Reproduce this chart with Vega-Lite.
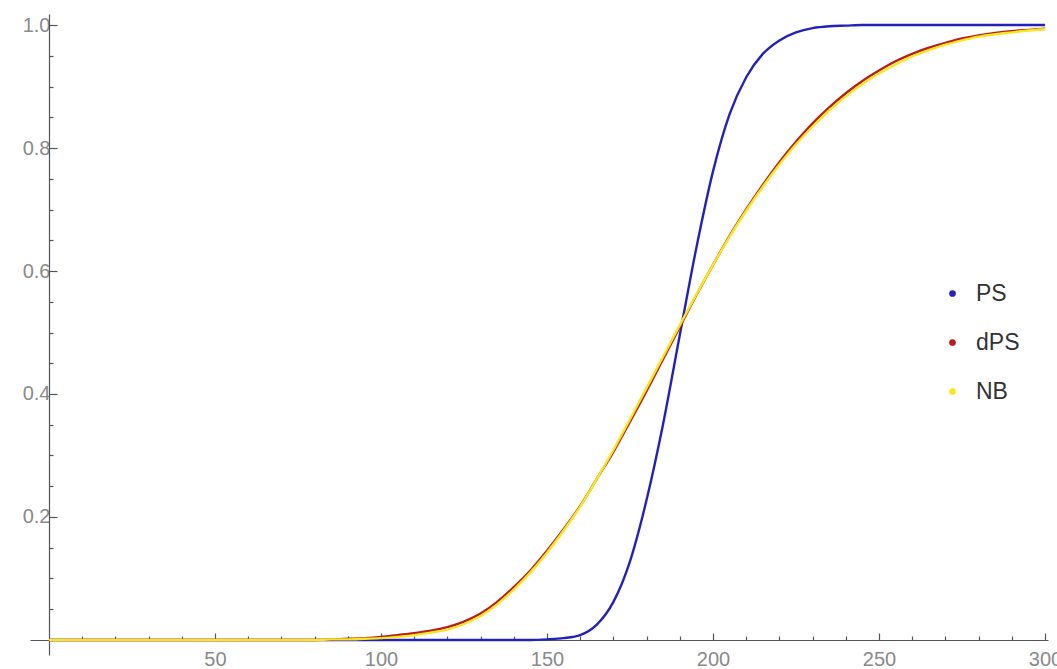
{
  "$schema": "https://vega.github.io/schema/vega-lite/v6.json",
  "width": 1018,
  "height": 641,
  "autosize": {"type": "none"},
  "padding": {"left": 30, "top": 14, "right": 9, "bottom": 14},
  "background": "white",
  "config": {"view": {"stroke": null}, "font": "Liberation Sans"},
  "data": {"values": [
    {"x": 0, "y": 0, "s": "PS"}, {"x": 145, "y": 0, "s": "PS"}, {"x": 150, "y": 0.001, "s": "PS"}, {"x": 155, "y": 0.003, "s": "PS"},
    {"x": 160, "y": 0.008, "s": "PS"}, {"x": 165, "y": 0.025, "s": "PS"}, {"x": 170, "y": 0.062, "s": "PS"}, {"x": 175, "y": 0.128, "s": "PS"},
    {"x": 180, "y": 0.228, "s": "PS"}, {"x": 185, "y": 0.352, "s": "PS"}, {"x": 190, "y": 0.496, "s": "PS"}, {"x": 195, "y": 0.638, "s": "PS"},
    {"x": 200, "y": 0.762, "s": "PS"}, {"x": 205, "y": 0.855, "s": "PS"}, {"x": 210, "y": 0.915, "s": "PS"}, {"x": 215, "y": 0.953, "s": "PS"},
    {"x": 220, "y": 0.975, "s": "PS"}, {"x": 225, "y": 0.988, "s": "PS"}, {"x": 230, "y": 0.995, "s": "PS"}, {"x": 235, "y": 0.998, "s": "PS"},
    {"x": 240, "y": 0.999, "s": "PS"}, {"x": 245, "y": 1.0, "s": "PS"}, {"x": 300, "y": 1.0, "s": "PS"},

    {"x": 0, "y": 0, "s": "dPS"}, {"x": 80, "y": 0, "s": "dPS"}, {"x": 85, "y": 0.001, "s": "dPS"}, {"x": 90, "y": 0.002, "s": "dPS"},
    {"x": 95, "y": 0.003, "s": "dPS"}, {"x": 100, "y": 0.005, "s": "dPS"}, {"x": 105, "y": 0.008, "s": "dPS"}, {"x": 110, "y": 0.011, "s": "dPS"},
    {"x": 115, "y": 0.015, "s": "dPS"}, {"x": 120, "y": 0.021, "s": "dPS"}, {"x": 125, "y": 0.030, "s": "dPS"}, {"x": 130, "y": 0.043, "s": "dPS"},
    {"x": 135, "y": 0.062, "s": "dPS"}, {"x": 140, "y": 0.086, "s": "dPS"}, {"x": 145, "y": 0.113, "s": "dPS"}, {"x": 150, "y": 0.145, "s": "dPS"},
    {"x": 155, "y": 0.180, "s": "dPS"}, {"x": 160, "y": 0.218, "s": "dPS"}, {"x": 165, "y": 0.262, "s": "dPS"}, {"x": 170, "y": 0.306, "s": "dPS"},
    {"x": 175, "y": 0.355, "s": "dPS"}, {"x": 180, "y": 0.405, "s": "dPS"}, {"x": 185, "y": 0.457, "s": "dPS"}, {"x": 190, "y": 0.509, "s": "dPS"},
    {"x": 195, "y": 0.561, "s": "dPS"}, {"x": 200, "y": 0.610, "s": "dPS"}, {"x": 205, "y": 0.657, "s": "dPS"}, {"x": 210, "y": 0.700, "s": "dPS"},
    {"x": 215, "y": 0.740, "s": "dPS"}, {"x": 220, "y": 0.777, "s": "dPS"}, {"x": 225, "y": 0.810, "s": "dPS"}, {"x": 230, "y": 0.840, "s": "dPS"},
    {"x": 235, "y": 0.866, "s": "dPS"}, {"x": 240, "y": 0.889, "s": "dPS"}, {"x": 245, "y": 0.909, "s": "dPS"}, {"x": 250, "y": 0.926, "s": "dPS"},
    {"x": 255, "y": 0.941, "s": "dPS"}, {"x": 260, "y": 0.953, "s": "dPS"}, {"x": 265, "y": 0.963, "s": "dPS"}, {"x": 270, "y": 0.971, "s": "dPS"},
    {"x": 275, "y": 0.978, "s": "dPS"}, {"x": 280, "y": 0.983, "s": "dPS"}, {"x": 285, "y": 0.987, "s": "dPS"}, {"x": 290, "y": 0.990, "s": "dPS"},
    {"x": 295, "y": 0.992, "s": "dPS"}, {"x": 300, "y": 0.994, "s": "dPS"},

    {"x": 0, "y": 0, "s": "NB"}, {"x": 80, "y": 0, "s": "NB"}, {"x": 85, "y": 0.001, "s": "NB"}, {"x": 90, "y": 0.001, "s": "NB"},
    {"x": 95, "y": 0.002, "s": "NB"}, {"x": 100, "y": 0.003, "s": "NB"}, {"x": 105, "y": 0.005, "s": "NB"}, {"x": 110, "y": 0.008, "s": "NB"},
    {"x": 115, "y": 0.012, "s": "NB"}, {"x": 120, "y": 0.017, "s": "NB"}, {"x": 125, "y": 0.026, "s": "NB"}, {"x": 130, "y": 0.039, "s": "NB"},
    {"x": 135, "y": 0.058, "s": "NB"}, {"x": 140, "y": 0.082, "s": "NB"}, {"x": 145, "y": 0.110, "s": "NB"}, {"x": 150, "y": 0.142, "s": "NB"},
    {"x": 155, "y": 0.178, "s": "NB"}, {"x": 160, "y": 0.217, "s": "NB"}, {"x": 165, "y": 0.262, "s": "NB"}, {"x": 170, "y": 0.309, "s": "NB"},
    {"x": 175, "y": 0.359, "s": "NB"}, {"x": 180, "y": 0.410, "s": "NB"}, {"x": 185, "y": 0.461, "s": "NB"}, {"x": 190, "y": 0.512, "s": "NB"},
    {"x": 195, "y": 0.562, "s": "NB"}, {"x": 200, "y": 0.610, "s": "NB"}, {"x": 205, "y": 0.656, "s": "NB"}, {"x": 210, "y": 0.698, "s": "NB"},
    {"x": 215, "y": 0.737, "s": "NB"}, {"x": 220, "y": 0.773, "s": "NB"}, {"x": 225, "y": 0.806, "s": "NB"}, {"x": 230, "y": 0.835, "s": "NB"},
    {"x": 235, "y": 0.861, "s": "NB"}, {"x": 240, "y": 0.884, "s": "NB"}, {"x": 245, "y": 0.904, "s": "NB"}, {"x": 250, "y": 0.921, "s": "NB"},
    {"x": 255, "y": 0.936, "s": "NB"}, {"x": 260, "y": 0.949, "s": "NB"}, {"x": 265, "y": 0.959, "s": "NB"}, {"x": 270, "y": 0.968, "s": "NB"},
    {"x": 275, "y": 0.975, "s": "NB"}, {"x": 280, "y": 0.981, "s": "NB"}, {"x": 285, "y": 0.985, "s": "NB"}, {"x": 290, "y": 0.988, "s": "NB"},
    {"x": 295, "y": 0.991, "s": "NB"}, {"x": 300, "y": 0.993, "s": "NB"}
  ]},
  "mark": {"type": "line", "strokeWidth": 2.4, "interpolate": "monotone"},
  "encoding": {
    "x": {
      "field": "x", "type": "quantitative",
      "scale": {"domain": [-5.72, 300.9], "nice": false, "zero": false},
      "axis": {
        "title": null, "orient": "bottom", "offset": -15, "grid": false,
        "values": [10, 20, 30, 40, 50, 60, 70, 80, 90, 100, 110, 120, 130, 140, 150, 160, 170, 180, 190, 200, 210, 220, 230, 240, 250, 260, 270, 280, 290, 300],
        "labelExpr": "datum.value % 50 === 0 ? datum.label : ''",
        "tickSize": {"condition": {"test": "datum.value % 50 === 0", "value": -7}, "value": -4},
        "labelPadding": 16, "labelFontSize": 20, "labelColor": "#8a8a8a", "labelFont": "Liberation Sans",
        "labelOverlap": false, "labelFlush": false, "labelBound": false,
        "domainColor": "#555555", "domainWidth": 1.2, "tickColor": "#555555", "tickWidth": 1.2
      }
    },
    "y": {
      "field": "y", "type": "quantitative",
      "scale": {"domain": [-0.0244, 1.0179], "nice": false, "zero": false},
      "axis": {
        "title": null, "orient": "left", "offset": -19, "grid": false,
        "values": [0.05, 0.1, 0.15, 0.2, 0.25, 0.3, 0.35, 0.4, 0.45, 0.5, 0.55, 0.6, 0.65, 0.7, 0.75, 0.8, 0.85, 0.9, 0.95, 1.0],
        "labelExpr": "abs(datum.value * 5 - round(datum.value * 5)) < 0.000001 ? format(datum.value, '.1f') : ''",
        "tickSize": {"condition": {"test": "abs(datum.value * 5 - round(datum.value * 5)) < 0.000001", "value": -8}, "value": -4},
        "labelPadding": 7, "labelFontSize": 20, "labelColor": "#8a8a8a", "labelFont": "Liberation Sans",
        "labelOverlap": false, "labelFlush": false, "labelBound": false,
        "domainColor": "#555555", "domainWidth": 1.2, "tickColor": "#555555", "tickWidth": 1.2
      }
    },
    "color": {
      "field": "s", "type": "nominal",
      "scale": {"domain": ["PS", "dPS", "NB"], "range": ["#2222b8", "#b81c1c", "#f8e71c"]},
      "legend": {
        "orient": "none", "legendX": 911, "legendY": 268, "title": null, "padding": 0,
        "symbolType": "circle", "symbolSize": 45, "symbolStrokeWidth": 0,
        "labelFontSize": 23, "labelColor": "#333333", "labelFont": "Liberation Sans",
        "labelOffset": 12, "rowPadding": 25,
        "encode": {"symbols": {"update": {"fill": {"scale": "color", "field": "value"}, "fillOpacity": {"value": 1}}}}
      }
    }
  }
}
